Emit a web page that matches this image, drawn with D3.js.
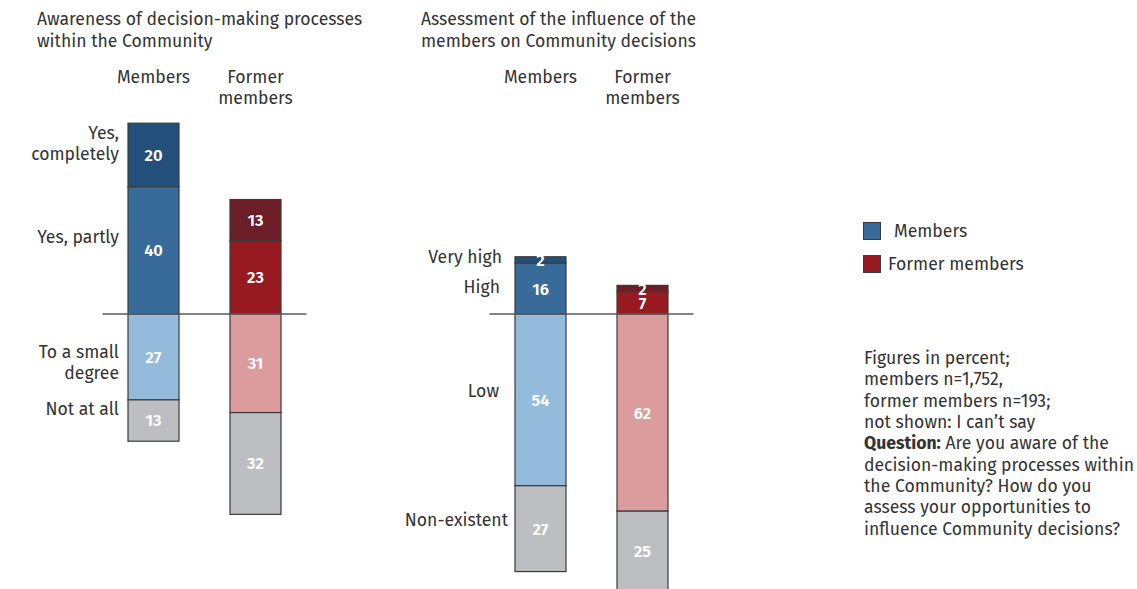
<!DOCTYPE html>
<html>
<head>
<meta charset="utf-8">
<script src="https://cdn.jsdelivr.net/npm/d3@7/dist/d3.min.js"></script>
<style>
  html, body { margin: 0; padding: 0; background: #ffffff; }
  svg { display: block; font-family: "Fira Sans", "Open Sans", "Noto Sans", sans-serif; }
</style>
</head>
<body>
<svg id="chart" width="1137" height="589"></svg>
<script>
// ---- data ----
const groups = ["Members", "Former members"];
const groupHeaderLines = [["Members"], ["Former", "members"]];

const awarenessTitle = ["Awareness of decision-making processes", "within the Community"];
const awarenessLabels = [["Yes,", "completely"], ["Yes, partly"], ["To a small", "degree"], ["Not at all"]];
const awarenessMembers = [20, 40, 27, 13];
const awarenessFormer = [13, 23, 31, 32];

const influenceTitle = ["Assessment of the influence of the", "members on Community decisions"];
const influenceLabels = [["Very high"], ["High"], ["Low"], ["Non-existent"]];
const influenceMembers = [2, 16, 54, 27];
const influenceFormer = [2, 7, 62, 25];

const membersColors = ["#23507a", "#386a9a", "#94bbdb", "#bdbec2"];
const formerColors = ["#6c1e26", "#961a1f", "#dc9b9c", "#bdbec2"];

const legendItems = ["Members", "Former members"];
const noteLines = [
  "Figures in percent;",
  "members n=1,752,",
  "former members n=193;",
  "not shown: I can\u2019t say",
  ["Question:", " Are you aware of the"],
  "decision-making processes within",
  "the Community? How do you",
  "assess your opportunities to",
  "influence Community decisions?"
];

// ---- layout ----
const svg = d3.select("#chart");
const textColor = "#333333";
const fontSize = 17.6;
const valueFontSize = 16.5;
const positiveCount = 2; // first two answer categories sit above the baseline

// shared vertical scale: percent -> pixels, baseline at 0
const y = d3.scaleLinear().domain([-100, 100]).range([314 + 318, 314 - 318]);

function stackSegments(values) {
  const segs = [];
  let up = 0;
  for (let i = positiveCount - 1; i >= 0; i--) {
    segs[i] = { i, v: values[i], y0: up, y1: up + values[i] };
    up += values[i];
  }
  let down = 0;
  for (let i = positiveCount; i < values.length; i++) {
    segs[i] = { i, v: values[i], y0: down - values[i], y1: down };
    down -= values[i];
  }
  return segs;
}

function drawPanel(cfg) {
  const g = svg.append("g");
  const x = d3.scaleBand().domain(groups).range(cfg.range).paddingInner(0.5).paddingOuter(0.25);

  // title
  g.append("text")
    .attr("x", cfg.titleX).attr("y", 19)
    .attr("fill", textColor).attr("font-size", fontSize)
    .selectAll("tspan").data(cfg.title).join("tspan")
    .attr("x", cfg.titleX).attr("dy", (d, i) => i === 0 ? "0.35em" : 21.5)
    .text(d => d);

  // group headers
  groups.forEach((grp, gi) => {
    g.append("text")
      .attr("text-anchor", "middle").attr("fill", textColor).attr("font-size", fontSize)
      .attr("y", 77)
      .selectAll("tspan").data(groupHeaderLines[gi]).join("tspan")
      .attr("x", x(grp) + x.bandwidth() / 2)
      .attr("dy", (d, i) => i === 0 ? "0.35em" : 21)
      .text(d => d);
  });

  // bars
  const series = [
    { grp: groups[0], segs: stackSegments(cfg.members), colors: membersColors },
    { grp: groups[1], segs: stackSegments(cfg.former), colors: formerColors }
  ];
  series.forEach(s => {
    const bg = g.append("g");
    bg.selectAll("rect").data(s.segs).join("rect")
      .attr("x", x(s.grp))
      .attr("width", x.bandwidth())
      .attr("y", d => y(d.y1))
      .attr("height", d => y(d.y0) - y(d.y1))
      .attr("fill", d => s.colors[d.i])
      .attr("stroke", "#3a3a3a")
      .attr("stroke-width", 1.2);
    bg.selectAll("text").data(s.segs).join("text")
      .attr("x", x(s.grp) + x.bandwidth() / 2)
      .attr("y", d => (y(d.y0) + y(d.y1)) / 2)
      .attr("dy", "0.36em")
      .attr("text-anchor", "middle")
      .attr("fill", "#ffffff")
      .attr("font-size", valueFontSize)
      .attr("font-weight", 600)
      .text(d => d.v);
  });

  // baseline
  g.append("line")
    .attr("x1", cfg.range[0]).attr("x2", cfg.range[1])
    .attr("y1", y(0)).attr("y2", y(0))
    .attr("stroke", "#5a5a5a").attr("stroke-width", 1.5);

  // answer category labels, anchored to the members bar segments
  const memberSegs = series[0].segs;
  cfg.labels.forEach((lines, i) => {
    const seg = memberSegs[i];
    const cy = (y(seg.y0) + y(seg.y1)) / 2 + cfg.labelDy[i];
    const rx = x(groups[0]) - cfg.labelGap[i];
    const top = cy - (lines.length - 1) * 21 / 2;
    g.append("text")
      .attr("text-anchor", "end").attr("fill", textColor).attr("font-size", fontSize)
      .attr("y", top)
      .selectAll("tspan").data(lines).join("tspan")
      .attr("x", rx)
      .attr("dy", (d, j) => j === 0 ? "0.35em" : 21)
      .text(d => d);
  });
}

drawPanel({
  title: awarenessTitle, titleX: 37,
  range: [102.5, 306.5],
  members: awarenessMembers, former: awarenessFormer,
  labels: awarenessLabels,
  labelDy: [-12, -13.5, 5.5, -11.5],
  labelGap: [9, 9, 9, 9]
});

drawPanel({
  title: influenceTitle, titleX: 421,
  range: [489.5, 693.5],
  members: influenceMembers, former: influenceFormer,
  labels: influenceLabels,
  labelDy: [-3, -1.5, -9, -9],
  labelGap: [13, 15, 16, 7]
});

// legend
const legend = svg.append("g");
const legendColors = [membersColors[1], formerColors[1]];
const legendTextX = [894, 888];
legendItems.forEach((name, i) => {
  const cy = 231 + i * 33;
  legend.append("rect")
    .attr("x", 863.5).attr("y", cy - 8.5)
    .attr("width", 17).attr("height", 17)
    .attr("fill", legendColors[i])
    .attr("stroke", "#3a3a3a").attr("stroke-width", 1);
  legend.append("text")
    .attr("x", legendTextX[i]).attr("y", cy).attr("dy", "0.35em")
    .attr("fill", textColor).attr("font-size", fontSize)
    .text(name);
});

// notes
const notes = svg.append("text")
  .attr("fill", textColor).attr("font-size", fontSize);
noteLines.forEach((line, i) => {
  const t = notes.append("tspan")
    .attr("x", 864)
    .attr("y", 358 + i * 21.3)
    .attr("dy", "0.35em");
  if (Array.isArray(line)) {
    t.append("tspan").attr("font-weight", 700).text(line[0]);
    t.append("tspan").text(line[1]);
  } else {
    t.text(line);
  }
});
</script>
</body>
</html>
